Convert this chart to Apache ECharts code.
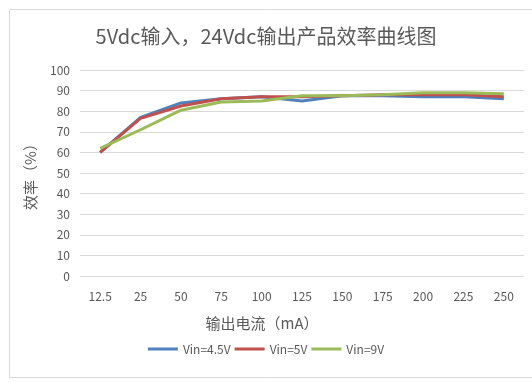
<!DOCTYPE html>
<html>
<head>
<meta charset="utf-8">
<script src="https://cdn.jsdelivr.net/npm/echarts@6/dist/echarts.min.js"></script>
<style>
html,body{margin:0;padding:0;background:#fff;}
#chart{width:532px;height:382px;}
</style>
</head>
<body>
<div id="chart"></div>
<script>
// Output current categories (mA)
const currents = ['12.5', '25', '50', '75', '100', '125', '150', '175', '200', '225', '250'];
// Efficiency (%) for each input voltage
const vin45 = [60, 77, 84, 86, 87, 85, 87.5, 87.5, 87, 87, 86];
const vin5  = [60, 76.5, 82.5, 86, 87, 87, 87.5, 88, 88, 88, 87];
const vin9  = [62, 71, 80.5, 84.5, 85, 87.5, 87.5, 88, 89, 89, 88.5];
const seriesNames = ['Vin=4.5V', 'Vin=5V', 'Vin=9V'];
const colors = ['#4F81BD', '#C0504D', '#9BBB59'];

const font = '"Noto Sans CJK SC", "Open Sans", sans-serif';
const chart = echarts.init(document.getElementById('chart'), null, {renderer: 'canvas'});

function line(name, data, color) {
  return {
    name: name,
    type: 'line',
    data: data,
    symbol: 'none',
    lineStyle: {width: 3, color: color},
    itemStyle: {color: color}
  };
}

chart.setOption({
  animation: false,
  textStyle: {fontFamily: font},
  graphic: [{
    type: 'rect',
    shape: {x: 9.5, y: 9.5, width: 540, height: 368},
    style: {fill: 'none', stroke: '#d9d9d9', lineWidth: 1},
    silent: true
  }],
  title: {
    text: '5Vdc输入，24Vdc输出产品效率曲线图',
    left: 'center',
    top: 21,
    textStyle: {fontSize: 20, fontWeight: 'normal', color: '#595959', fontFamily: font}
  },
  grid: {left: 80, right: 8, top: 70, bottom: 106},
  legend: {
    data: seriesNames,
    bottom: 22,
    left: 'center',
    icon: 'rect',
    itemWidth: 30,
    itemHeight: 3,
    itemGap: 4,
    textStyle: {fontSize: 12, color: '#595959', fontFamily: font}
  },
  xAxis: {
    type: 'category',
    data: currents,
    boundaryGap: true,
    name: '输出电流（mA）',
    nameLocation: 'middle',
    nameGap: 40,
    nameTextStyle: {fontSize: 15, color: '#595959', fontFamily: font, padding: [0, 80, 0, 0]},
    axisLine: {show: false},
    axisTick: {show: false},
    axisLabel: {fontSize: 12, color: '#595959', margin: 14}
  },
  yAxis: {
    type: 'value',
    min: 0,
    max: 100,
    interval: 10,
    name: '效率（%）',
    nameLocation: 'middle',
    nameGap: 42,
    nameRotate: 90,
    nameTextStyle: {fontSize: 15, color: '#595959', fontFamily: font},
    axisLine: {show: false},
    axisTick: {show: false},
    axisLabel: {fontSize: 12, color: '#595959', margin: 10},
    splitLine: {lineStyle: {color: '#d9d9d9', width: 1}}
  },
  series: [
    line(seriesNames[0], vin45, colors[0]),
    line(seriesNames[1], vin5, colors[1]),
    line(seriesNames[2], vin9, colors[2])
  ]
});
</script>
</body>
</html>
